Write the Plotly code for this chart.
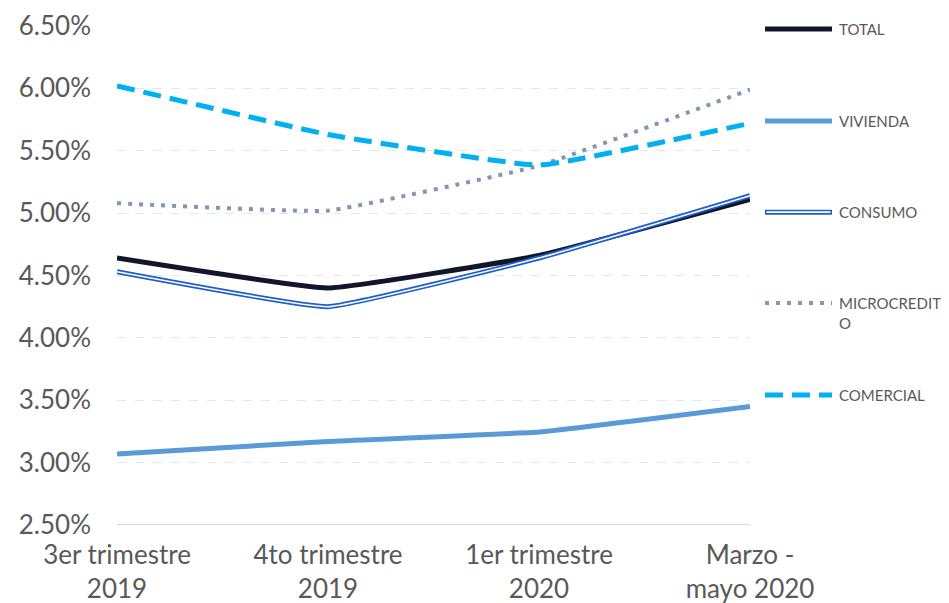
import plotly.graph_objects as go

# ── data ─────────────────────────────────────────────────────────────────────

periods = ["3er trimestre<br>2019", "4to trimestre<br>2019",
           "1er trimestre<br>2020", "Marzo -<br>mayo 2020"]

total = [4.64, 4.40, 4.66, 5.11]
vivienda = [3.07, 3.17, 3.245, 3.45]
consumo = [4.53, 4.25, 4.64, 5.14]
microcredito = [5.08, 5.02, 5.38, 5.99]
comercial = [6.02, 5.63, 5.385, 5.72]

series_names = ["TOTAL", "VIVIENDA", "CONSUMO", "MICROCREDIT<br>O", "COMERCIAL"]

FONT = "Lato, 'Century Gothic', sans-serif"
GREY = "#595959"

# ── figure ───────────────────────────────────────────────────────────────────

fig = go.Figure()
x = list(range(len(periods)))

styles = [
    (total, dict(color="#12162b", width=5)),
    (vivienda, dict(color="#5b9bd5", width=5)),
    (consumo, dict(color="#1f5fc8", width=5)),
    (microcredito, dict(color="#8496b0", width=4, dash="4px,7px")),
    (comercial, dict(color="#00b0f0", width=5, dash="18px,9px")),
]

for i, (vals, line) in enumerate(styles):
    y = [v / 100 for v in vals]
    fig.add_trace(go.Scatter(x=x, y=y, mode="lines", line=dict(shape="spline", smoothing=0.3, **line),
                             hoverinfo="skip", showlegend=False))
    if i == 2:
        # white core of the double line
        fig.add_trace(go.Scatter(x=x, y=y, mode="lines",
                                 line=dict(color="white", width=1.6, shape="spline", smoothing=0.3),
                                 hoverinfo="skip", showlegend=False))

# hand-placed legend on the right
legend_y = [0.994, 0.8096, 0.627, 0.445, 0.2605]
for (vals, line), name, ly in zip(styles, series_names, legend_y):
    fig.add_shape(type="line", xref="paper", yref="paper", x0=1.0237, x1=1.1295, y0=ly, y1=ly,
                  line=dict(color=line["color"], width=line["width"], dash=line.get("dash", "solid")))
    if name == "CONSUMO":
        fig.add_shape(type="line", xref="paper", yref="paper", x0=1.026, x1=1.127, y0=ly, y1=ly,
                      line=dict(color="white", width=1.6))
    fig.add_annotation(xref="paper", yref="paper", x=1.138, y=ly if "<br>" not in name else ly - 0.02,
                       text=name, showarrow=False, xanchor="left", yanchor="middle", align="left",
                       font=dict(family=FONT, size=15, color=GREY))

# page body adds an 8px margin, so the figure is sized to fit inside it
fig.update_layout(
    width=941, height=595,
    margin=dict(l=109, r=199, t=18, b=78),
    paper_bgcolor="white", plot_bgcolor="white",
    font=dict(family=FONT, color=GREY),
    showlegend=False,
)
fig.update_xaxes(
    range=[0, 3], tickvals=x, ticktext=periods, showgrid=False, zeroline=False,
    showline=False, ticks="", tickfont=dict(size=26, color=GREY),
    automargin=False, ticklabelstandoff=12,
)
fig.update_yaxes(
    range=[0.025, 0.065], dtick=0.005, tickformat=".2%", showgrid=True,
    gridcolor="#dfe7f3", griddash="dash", gridwidth=1, zeroline=False,
    tickfont=dict(size=26, color=GREY), ticks="", ticklabelstandoff=25,
    automargin=False,
)
fig.add_hline(y=0.025, line=dict(color="#d9d9d9", width=2))

fig.write_html("out.html")
